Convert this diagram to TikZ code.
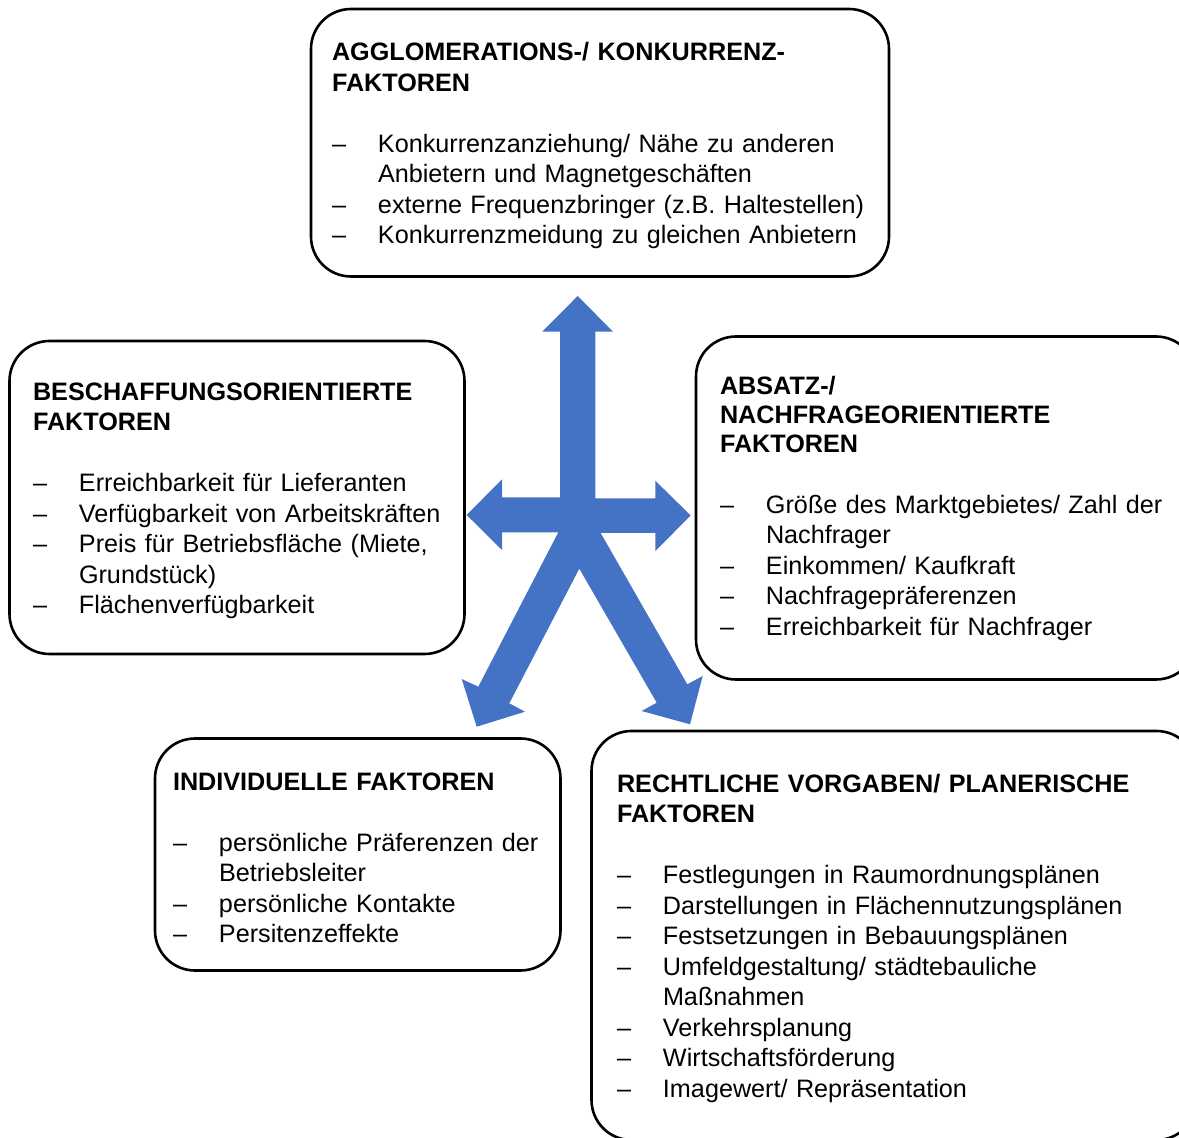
\documentclass[tikz,border=0pt]{standalone}
\usepackage{fontspec}
\setmainfont{Liberation Sans}
\definecolor{pfeilblau}{HTML}{4472C4}
\newcommand{\punkt}[1]{\mbox{\makebox[23pt][l]{--}#1}}
\newcommand{\weiter}[1]{\mbox{\hspace*{23pt}#1}}
\newcommand{\titel}[1]{\rule{0pt}{12pt}\textbf{#1}}

\begin{document}
\begin{tikzpicture}[x=0.5pt, y=-0.5pt,
  faktor/.style={draw=black, line width=1.3pt, rounded corners=20pt, anchor=north west,
    align=left, inner ysep=0pt, outer sep=0pt, font=\fontsize{12.6pt}{15.25pt}\selectfont}]

\useasboundingbox (0,0) rectangle (1179,1138);

% blue block arrow in the middle
\fill[pfeilblau] (577.7,296) -- (613,331.7) -- (595.3,331.7) -- (595.3,498.5)
  -- (655.3,498.5) -- (655.3,480.7) -- (690.7,515.5) -- (655.3,551) -- (655.3,533)
  -- (600.7,533) -- (687.3,684.3) -- (702.7,676) -- (690,724.3) -- (641.7,711)
  -- (656.7,702.7) -- (579.3,568.7) -- (509.3,703.3) -- (525,711.7) -- (476.7,726.7)
  -- (461.7,679) -- (478.3,686.7) -- (558.3,532.3) -- (502,532.3) -- (502,550)
  -- (466.7,515) -- (502,479.3) -- (502,497.5) -- (560,497.5) -- (560,331.7)
  -- (542.3,331.7) -- cycle;

\node[faktor, inner xsep=10.5pt, text width=268pt, minimum height=133.75pt] (agglo) at (311,9)
  {\titel{AGGLOMERATIONS-/ KONKURRENZ-}\\ \textbf{FAKTOREN}\\[15.25pt]
   \punkt{Konkurrenzanziehung/ Nähe zu anderen}\\
   \weiter{Anbietern und Magnetgeschäften}\\
   \punkt{externe Frequenzbringer (z.B. Haltestellen)}\\
   \punkt{Konkurrenzmeidung zu gleichen Anbietern}};

\node[faktor, inner xsep=11.75pt, text width=204pt, minimum height=156.5pt] (beschaffung) at (9.5,341)
  {\titel{BESCHAFFUNGSORIENTIERTE}\\ \textbf{FAKTOREN}\\[15.25pt]
   \punkt{Erreichbarkeit für Lieferanten}\\
   \punkt{Verfügbarkeit von Arbeitskräften}\\
   \punkt{Preis für Betriebsfläche (Miete,}\\
   \weiter{Grundstück)}\\
   \punkt{Flächenverfügbarkeit}};

\node[faktor, inner xsep=12pt, text width=226pt, minimum height=171.5pt] (absatz) at (696,336.5)
  {\textbf{ABSATZ-/}\\[-0.75pt] \textbf{NACHFRAGEORIENTIERTE}\\[-0.75pt] \textbf{FAKTOREN}\\[15.25pt]
   \punkt{Größe des Marktgebietes/ Zahl der}\\
   \weiter{Nachfrager}\\
   \punkt{Einkommen/ Kaufkraft}\\
   \punkt{Nachfragepräferenzen}\\
   \punkt{Erreichbarkeit für Nachfrager}};

\node[faktor, inner xsep=9pt, text width=184.75pt, minimum height=116pt] (individuell) at (155,738.5)
  {\titel{INDIVIDUELLE FAKTOREN}\\[15.25pt]
   \punkt{persönliche Präferenzen der}\\
   \weiter{Betriebsleiter}\\
   \punkt{persönliche Kontakte}\\
   \punkt{Persitenzeffekte}};

\node[faktor, inner xsep=12.75pt, text width=277pt, minimum height=204.5pt] (recht) at (591.5,731)
  {\titel{RECHTLICHE VORGABEN/ PLANERISCHE}\\ \textbf{FAKTOREN}\\[15.25pt]
   \punkt{Festlegungen in Raumordnungsplänen}\\
   \punkt{Darstellungen in Flächennutzungsplänen}\\
   \punkt{Festsetzungen in Bebauungsplänen}\\
   \punkt{Umfeldgestaltung/ städtebauliche}\\
   \weiter{Maßnahmen}\\
   \punkt{Verkehrsplanung}\\
   \punkt{Wirtschaftsförderung}\\
   \punkt{Imagewert/ Repräsentation}};

\end{tikzpicture}
\end{document}
